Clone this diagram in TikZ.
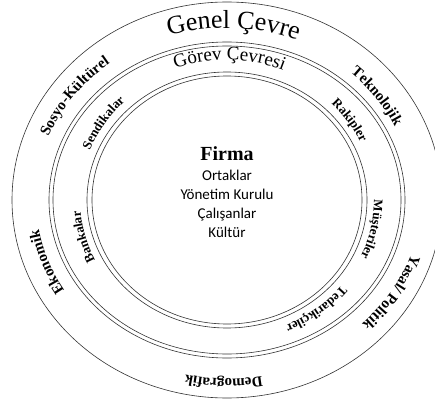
\documentclass[tikz,border=0pt]{standalone}
\usepackage{fontspec}
\setmainfont{Liberation Serif}
\newfontfamily\listfont{Carlito}
\usetikzlibrary{decorations.text}

\tikzset{
  ring/.style={draw=black!80, line width=0.6pt},
  bandtext/.style={decorate, decoration={text along path, text align=center, text={#1}}},
}

\begin{document}
\begin{tikzpicture}[x=1pt,y=1pt]
\useasboundingbox (-227,-201) rectangle (208,200);
% rings
\draw[ring] (0,0) ellipse [x radius=215pt, y radius=198pt];
\draw[ring] (0,0) ellipse [x radius=178pt, y radius=158pt];
\draw[ring] (0,0) ellipse [x radius=174pt, y radius=154pt];
\draw[ring] (0,0) ellipse [x radius=140pt, y radius=128pt];
\draw[ring] (0,0) ellipse [x radius=135pt, y radius=124pt];

% genel cevre
\path[bandtext={|\fontsize{26}{26}\selectfont|Genel Çevre}] (128:191pt and 172pt) arc[start angle=128, end angle=48, x radius=191pt, y radius=172pt];
\path[bandtext={|\bfseries\fontsize{15}{15}\selectfont|Sosyo-Kültürel}] (184:192pt and 172pt) arc[start angle=184, end angle=104, x radius=192pt, y radius=172pt];
\path[bandtext={|\bfseries\fontsize{15}{15}\selectfont|Teknolojik}] (76:186pt and 170pt) arc[start angle=76, end angle=-4, x radius=186pt, y radius=170pt];
\path[bandtext={|\bfseries\fontsize{15}{15}\selectfont|Yasal/ Politik}] (9:194pt and 172pt) arc[start angle=9, end angle=-71, x radius=194pt, y radius=172pt];
\path[bandtext={|\bfseries\fontsize{15}{15}\selectfont|Demografik}] (-51:191pt and 179pt) arc[start angle=-51, end angle=-131, x radius=191pt, y radius=179pt];
\path[bandtext={|\bfseries\fontsize{15}{15}\selectfont|Ekonomik}] (240:191pt and 172pt) arc[start angle=240, end angle=160, x radius=191pt, y radius=172pt];

% gorev cevresi
\path[bandtext={|\fontsize{19}{19}\selectfont|Görev Çevresi}] (129:147pt and 140pt) arc[start angle=129, end angle=49, x radius=147pt, y radius=140pt];
\path[bandtext={|\bfseries\fontsize{13}{13}\selectfont|Sendikalar}] (187:147pt and 137pt) arc[start angle=187, end angle=107, x radius=147pt, y radius=137pt];
\path[bandtext={|\bfseries\fontsize{13}{13}\selectfont|Rakipler}] (74:147pt and 137pt) arc[start angle=74, end angle=-6, x radius=147pt, y radius=137pt];
\path[bandtext={|\bfseries\fontsize{13}{13}\selectfont|Müşteriler}] (28:147pt and 137pt) arc[start angle=28, end angle=-52, x radius=147pt, y radius=137pt];
\path[bandtext={|\bfseries\fontsize{13}{13}\selectfont|Tedarikçiler}] (-12:147pt and 137pt) arc[start angle=-12, end angle=-92, x radius=147pt, y radius=137pt];
\path[bandtext={|\bfseries\fontsize{13}{13}\selectfont|Bankalar}] (235:147pt and 137pt) arc[start angle=235, end angle=155, x radius=147pt, y radius=137pt];

% firma
\node[align=center, anchor=north, inner sep=0pt, font=\listfont\fontsize{15}{19}\selectfont] (firma) at (0,54)
  {{\rmfamily\bfseries\fontsize{20}{20}\selectfont Firma}\\[1pt]
   Ortaklar\\ Yönetim Kurulu\\ Çalışanlar\\ Kültür};
\end{tikzpicture}
\end{document}
